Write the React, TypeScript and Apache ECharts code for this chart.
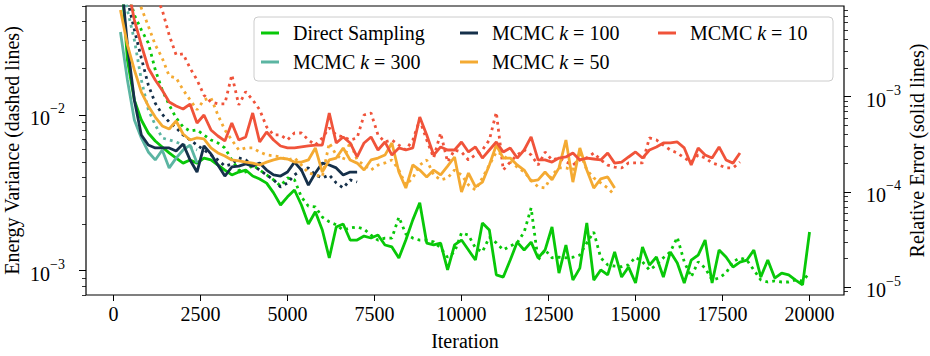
import React, { useEffect, useRef } from 'react';
import * as echarts from 'echarts';

const FONT = 'Liberation Serif';
const STEP = 200;

const names = ['Direct Sampling', 'MCMC k = 300', 'MCMC k = 100', 'MCMC k = 50', 'MCMC k = 10'];
const colors = ['#08c808', '#5bb5a2', '#15304a', '#f4aa32', '#f0533a'];

const xTicks = [0, 2500, 5000, 7500, 10000, 12500, 15000, 17500, 20000];
const leftMajor = [1e-3, 1e-2];
const leftMinor = [7e-4, 8e-4, 9e-4, 2e-3, 3e-3, 4e-3, 5e-3, 6e-3, 7e-3, 8e-3, 9e-3, 2e-2, 3e-2, 4e-2, 5e-2];
const rightMajor = [1e-5, 1e-4, 1e-3];
const rightMinor = [9e-6, 2e-5, 3e-5, 4e-5, 5e-5, 6e-5, 7e-5, 8e-5, 9e-5, 2e-4, 3e-4, 4e-4, 5e-4, 6e-4, 7e-4, 8e-4, 9e-4, 2e-3, 3e-3, 4e-3, 5e-3, 6e-3, 7e-3, 8e-3];

// Relative error (solid lines, right axis)
const errDirect = [
  2.5e-2, 2.43e-3, 9.2e-4, 5.7e-4, 4.16e-4, 3.43e-4, 2.97e-4, 2.57e-4, 2.27e-4, 2.01e-4,
  2.17e-4, 2.01e-4, 2.27e-4, 2.17e-4, 1.92e-4, 1.70e-4, 1.51e-4, 1.62e-4, 1.70e-4, 1.47e-4,
  1.37e-4, 1.24e-4, 9.8e-5, 7.3e-5, 8.9e-5, 1.05e-4, 7.3e-5, 4.62e-5, 6.2e-5, 3.99e-5,
  2.03e-5, 4.29e-5, 4.62e-5, 3.13e-5, 3.13e-5, 3.45e-5, 3.29e-5, 3.54e-5, 2.78e-5, 2.65e-5,
  2.03e-5, 3.13e-5, 5.1e-5, 7.7e-5, 2.91e-5, 2.78e-5, 2.91e-5, 1.52e-5, 2.78e-5, 3.13e-5,
  2.46e-5, 1.93e-5, 4.73e-5, 3.99e-5, 1.35e-5, 1.28e-5, 1.93e-5, 2.98e-5, 2.46e-5, 2.98e-5,
  2.03e-5, 2.46e-5, 4.29e-5, 1.41e-5, 2.78e-5, 1.19e-5, 1.59e-5, 4.73e-5, 1.19e-5, 1.52e-5,
  1.35e-5, 2.35e-5, 1.28e-5, 1.63e-5, 1.11e-5, 2.65e-5, 1.71e-5, 2.08e-5, 1.28e-5, 2.35e-5,
  1.80e-5, 1.11e-5, 1.93e-5, 2.18e-5, 3.13e-5, 1.11e-5, 2.46e-5, 2.08e-5, 1.63e-5, 1.84e-5,
  1.93e-5, 2.46e-5, 1.28e-5, 1.93e-5, 1.25e-5, 1.41e-5, 1.35e-5, 1.19e-5, 1.06e-5, 3.80e-5,
];
const errK300 = [4.77e-3, 1.50e-3, 5.7e-4, 3.69e-4, 2.63e-4, 2.17e-4, 2.76e-4, 1.79e-4, 2.27e-4, 2.76e-4, 3.11e-4, 2.01e-4];
const errK100 = [
  2.14e-2, 3.49e-3, 9.2e-4, 3.97e-4, 3.11e-4, 2.90e-4, 2.90e-4, 2.90e-4, 2.69e-4, 3.19e-4,
  2.17e-4, 1.62e-4, 3.04e-4, 2.51e-4, 1.92e-4, 1.47e-4, 1.83e-4, 1.87e-4, 1.97e-4, 1.87e-4,
  2.01e-4, 1.70e-4, 1.51e-4, 1.47e-4, 1.62e-4, 2.06e-4, 1.70e-4, 1.18e-4, 1.58e-4, 2.01e-4,
  1.92e-4, 1.79e-4, 1.51e-4, 1.62e-4, 1.62e-4,
];
const errK50 = [
  8.13e-3, 3.49e-3, 1.91e-3, 1.12e-3, 7.99e-4, 6.12e-4, 4.93e-4, 4.58e-4, 5.56e-4, 4.06e-4,
  3.51e-4, 3.69e-4, 3.60e-4, 2.90e-4, 2.57e-4, 2.39e-4, 2.17e-4, 2.12e-4, 2.06e-4, 2.01e-4,
  1.92e-4, 2.06e-4, 2.17e-4, 2.27e-4, 2.22e-4, 2.06e-4, 2.06e-4, 2.17e-4, 2.90e-4, 1.62e-4,
  2.17e-4, 2.27e-4, 2.90e-4, 2.17e-4, 2.01e-4, 1.70e-4, 2.17e-4, 2.27e-4, 2.44e-4, 3.27e-4,
  1.62e-4, 1.10e-4, 1.92e-4, 1.70e-4, 1.44e-4, 1.70e-4, 1.51e-4, 1.87e-4, 2.33e-4, 1.00e-4,
  1.58e-4, 1.13e-4, 1.27e-4, 1.92e-4, 3.11e-4, 2.27e-4, 2.27e-4, 1.92e-4, 1.70e-4, 1.30e-4,
  1.34e-4, 1.62e-4, 1.34e-4, 1.79e-4, 3.51e-4, 1.27e-4, 2.90e-4, 1.70e-4, 1.10e-4, 1.37e-4,
  1.44e-4, 1.10e-4,
];
const errK10 = [
  2.72e-2, 1.49e-2, 6.38e-3, 3.49e-3, 2.0e-3, 1.50e-3, 1.17e-3, 8.79e-4, 7.99e-4, 7.43e-4,
  8.38e-4, 5.30e-4, 6.43e-4, 4.48e-4, 3.87e-4, 3.43e-4, 5.30e-4, 3.51e-4, 3.78e-4, 6.75e-4,
  3.35e-4, 4.26e-4, 3.51e-4, 3.04e-4, 2.90e-4, 2.90e-4, 2.97e-4, 3.04e-4, 3.11e-4, 3.11e-4,
  6.75e-4, 3.27e-4, 3.78e-4, 3.27e-4, 2.33e-4, 3.27e-4, 3.78e-4, 2.76e-4, 3.35e-4, 2.44e-4,
  2.90e-4, 2.76e-4, 2.90e-4, 6.12e-4, 3.97e-4, 2.44e-4, 2.97e-4, 2.76e-4, 2.76e-4, 3.35e-4,
  2.63e-4, 2.97e-4, 2.27e-4, 2.76e-4, 3.35e-4, 2.63e-4, 2.90e-4, 2.27e-4, 2.76e-4, 3.78e-4,
  2.17e-4, 2.17e-4, 2.06e-4, 2.27e-4, 2.33e-4, 2.57e-4, 2.17e-4, 2.27e-4, 2.22e-4, 2.17e-4,
  2.57e-4, 2.01e-4, 2.06e-4, 2.33e-4, 2.63e-4, 2.27e-4, 2.76e-4, 2.97e-4, 3.27e-4, 3.27e-4,
  3.35e-4, 2.90e-4, 1.92e-4, 2.90e-4, 2.44e-4, 2.27e-4, 2.97e-4, 2.17e-4, 2.01e-4, 2.57e-4,
];

// Energy variance (dashed lines, left axis)
const varDirect = [
  1.33e-1, 6.35e-2, 4.39e-2, 3.52e-2, 2.90e-2, 1.95e-2, 1.45e-2, 1.16e-2, 9.57e-3, 8.38e-3,
  7.89e-3, 8.01e-3, 7.44e-3, 6.91e-3, 6.61e-3, 6.14e-3, 5.14e-3, 4.43e-3, 4.30e-3, 4.77e-3,
  4.43e-3, 4.12e-3, 3.83e-3, 3.50e-3, 3.94e-3, 3.83e-3, 2.97e-3, 2.60e-3, 2.57e-3, 2.21e-3,
  2.06e-3, 1.97e-3, 1.82e-3, 1.88e-3, 1.91e-3, 1.85e-3, 1.69e-3, 1.57e-3, 1.62e-3, 1.62e-3,
  2.21e-3, 1.72e-3, 1.62e-3, 1.57e-3, 1.57e-3, 1.53e-3, 1.40e-3, 1.22e-3, 1.32e-3, 1.75e-3,
  1.69e-3, 1.40e-3, 1.32e-3, 1.64e-3, 1.51e-3, 1.36e-3, 1.44e-3, 1.51e-3, 1.77e-3, 2.53e-3,
  1.17e-3, 1.36e-3, 1.21e-3, 1.22e-3, 1.21e-3, 1.22e-3, 1.26e-3, 1.51e-3, 1.77e-3, 1.21e-3,
  1.09e-3, 1.07e-3, 1.06e-3, 1.09e-3, 1.22e-3, 1.14e-3, 1.01e-3, 1.09e-3, 1.21e-3, 1.32e-3,
  1.64e-3, 1.14e-3, 9.12e-4, 1.14e-3, 1.04e-3, 8.71e-4, 8.98e-4, 9.66e-4, 1.14e-3, 1.21e-3,
  1.17e-3, 1.01e-3, 8.71e-4, 8.46e-4, 8.59e-4, 8.46e-4, 8.46e-4, 8.71e-4, 8.59e-4, 9.66e-4,
];
const varK300 = [8.53e-2, 4.72e-2, 3.03e-2, 1.68e-2, 1.08e-2, 8.63e-3, 7.12e-3, 6.91e-3, 6.71e-3, 6.41e-3, 6.23e-3, 5.96e-3];
const varK100 = [
  9.91e-2, 5.48e-2, 3.52e-2, 2.32e-2, 1.56e-2, 1.19e-2, 1.01e-2, 9.02e-3, 8.26e-3, 7.44e-3,
  6.91e-3, 6.41e-3, 5.96e-3, 5.54e-3, 5.14e-3, 4.70e-3, 4.84e-3, 5.30e-3, 5.14e-3, 4.77e-3,
  4.43e-3, 4.12e-3, 3.83e-3, 3.45e-3, 3.66e-3, 4.12e-3, 4.43e-3, 4.57e-3, 4.12e-3, 3.94e-3,
  4.12e-3, 3.66e-3, 3.40e-3, 3.83e-3, 3.71e-3,
];
const varK50 = [
  1.33e-1, 8.53e-2, 6.35e-2, 4.86e-2, 3.73e-2, 2.82e-2, 2.32e-2, 1.78e-2, 1.73e-2, 1.45e-2,
  1.25e-2, 1.08e-2, 1.25e-2, 1.29e-2, 1.00e-2, 8.01e-3, 6.91e-3, 5.96e-3, 6.14e-3, 6.14e-3,
  5.78e-3, 5.54e-3, 5.46e-3, 5.37e-3, 5.14e-3, 5.30e-3, 4.77e-3, 4.24e-3, 4.12e-3, 4.00e-3,
  6.61e-3, 5.54e-3, 5.14e-3, 6.71e-3, 5.14e-3, 4.77e-3, 4.43e-3, 4.77e-3, 4.92e-3, 5.14e-3,
  4.43e-3, 3.55e-3, 3.94e-3, 4.77e-3, 5.14e-3, 4.12e-3, 3.83e-3, 3.94e-3, 4.43e-3, 4.12e-3,
  3.55e-3, 3.30e-3, 3.94e-3, 4.77e-3, 5.78e-3, 5.54e-3, 4.99e-3, 4.63e-3, 4.30e-3, 3.83e-3,
  3.45e-3, 3.40e-3, 4.12e-3, 4.57e-3, 4.57e-3, 4.43e-3, 5.78e-3, 4.43e-3, 3.94e-3, 3.66e-3,
  3.40e-3, 3.06e-3,
];
const varK10 = [
  5.04e-1, 2.79e-1, 1.79e-1, 1.15e-1, 7.93e-2, 5.90e-2, 4.72e-2, 3.26e-2, 2.43e-2, 2.47e-2,
  2.0e-2, 1.68e-2, 1.34e-2, 1.21e-2, 1.18e-2, 1.18e-2, 1.81e-2, 1.16e-2, 1.41e-2, 1.25e-2,
  1.08e-2, 8.38e-3, 7.44e-3, 7.44e-3, 6.91e-3, 7.66e-3, 7.66e-3, 6.91e-3, 6.41e-3, 7.12e-3,
  8.26e-3, 7.44e-3, 7.23e-3, 6.91e-3, 7.12e-3, 1.00e-2, 1.03e-2, 7.44e-3, 6.71e-3, 6.91e-3,
  6.41e-3, 5.96e-3, 6.91e-3, 9.29e-3, 6.91e-3, 5.30e-3, 7.66e-3, 4.99e-3, 5.96e-3, 5.78e-3,
  5.14e-3, 5.54e-3, 5.96e-3, 6.91e-3, 1.04e-2, 4.43e-3, 4.99e-3, 5.54e-3, 5.96e-3, 5.54e-3,
  4.77e-3, 5.78e-3, 5.14e-3, 5.30e-3, 4.99e-3, 4.77e-3, 5.14e-3, 5.30e-3, 5.70e-3, 5.14e-3,
  4.77e-3, 4.63e-3, 4.57e-3, 4.92e-3, 4.92e-3, 4.92e-3, 7.12e-3, 6.91e-3, 6.41e-3, 5.96e-3,
  5.70e-3, 5.30e-3, 4.99e-3, 5.54e-3, 5.30e-3, 4.92e-3, 4.77e-3, 4.57e-3, 4.57e-3, 4.99e-3,
];

const errSeries = [errDirect, errK300, errK100, errK50, errK10];
const varSeries = [varDirect, varK300, varK100, varK50, varK10];

const X_MIN = -790;
const X_MAX = 20990;
const LEFT_MIN = 6.98e-4;
const LEFT_MAX = 5.01e-2;
const RIGHT_MIN = 8.3e-6;
const RIGHT_MAX = 8.95e-3;

const txt = { fontFamily: FONT, fontSize: 20, color: '#000', fontWeight: 'normal' };
const powRich = {
  b: { fontFamily: FONT, fontSize: 20, color: '#000', lineHeight: 26, verticalAlign: 'bottom' },
  s: { fontFamily: FONT, fontSize: 14, color: '#000', lineHeight: 14, verticalAlign: 'top' },
};
const powFmt = (v: number) => {
  const e = Math.round(Math.log10(v));
  return `{b|10}{s|\u2212${Math.abs(e)}}`;
};
const tickLine = { color: '#000', width: 1 };

const toPairs = (arr: number[]) => arr.map((v, i) => [(i + 1) * STEP, v]);

const legendFmt = (name: string) => {
  const m = name.match(/^MCMC k = (\d+)$/);
  return m ? `{r|MCMC }{i|k}{r| = ${m[1]}}` : `{r|${name}}`;
};

export default function App() {
  const ref = useRef<HTMLDivElement>(null);
  useEffect(() => {
    if (!ref.current) return;
    const chart = echarts.init(ref.current, undefined, { renderer: 'svg' });
    const yLog = (min: number, max: number, position: string) => ({
      type: 'log', logBase: 10, min, max, position,
      axisLine: { show: false, onZero: false }, splitLine: { show: false },
    });
    const legendBase = {
      top: 22, orient: 'vertical', itemWidth: 18, itemHeight: 3, itemGap: 7, icon: 'rect',
      padding: 0, selectedMode: false, formatter: legendFmt,
      itemStyle: { borderWidth: 0 },
      textStyle: {
        fontFamily: FONT, fontSize: 20, color: '#000', fontWeight: 'normal', lineHeight: 22, padding: [0, 0, 0, 9],
        rich: {
          r: { fontFamily: FONT, fontSize: 20, fontWeight: 'normal', color: '#000', lineHeight: 22 },
          i: { fontFamily: FONT, fontSize: 20, fontWeight: 'normal', fontStyle: 'italic', color: '#000', lineHeight: 22 },
        },
      },
    };
    const series: any[] = [];
    names.forEach((n, k) => {
      series.push({
        type: 'line', name: n + ' (variance)', yAxisIndex: 0, data: toPairs(varSeries[k]),
        symbol: 'none', showSymbol: false, clip: true, z: 2,
        lineStyle: { color: colors[k], width: 2.8, type: [2.8, 4.2], cap: 'butt' },
        itemStyle: { color: colors[k] },
      });
    });
    names.forEach((n, k) => {
      series.push({
        type: 'line', name: n, yAxisIndex: 1, data: toPairs(errSeries[k]),
        symbol: 'none', showSymbol: false, clip: true, z: 3,
        lineStyle: { color: colors[k], width: 2.8 },
        itemStyle: { color: colors[k] },
      });
    });
    chart.setOption({
      animation: false,
      backgroundColor: '#fff',
      textStyle: { fontFamily: FONT, fontWeight: 'normal' },
      grid: {
        left: 86, right: 86, top: 6, bottom: 61, show: true, borderColor: '#000', borderWidth: 1.2,
        backgroundColor: 'transparent', containLabel: false, outerBoundsMode: 'none',
      },
      xAxis: {
        type: 'value', min: X_MIN, max: X_MAX,
        axisLine: { show: false, onZero: false }, splitLine: { show: false },
        axisTick: { show: true, inside: false, length: 6, lineStyle: tickLine, customValues: xTicks },
        axisLabel: { customValues: xTicks, margin: 9, ...txt, formatter: (v: number) => String(v) },
        name: 'Iteration', nameLocation: 'middle', nameGap: 36, nameTextStyle: txt, nameMoveOverlap: false,
      },
      yAxis: [
        {
          ...yLog(LEFT_MIN, LEFT_MAX, 'left'),
          axisTick: { show: true, length: 7, lineStyle: tickLine, customValues: leftMajor },
          axisLabel: { customValues: leftMajor, margin: 21, formatter: powFmt, rich: powRich },
          name: 'Energy Variance (dashed lines)', nameLocation: 'middle', nameGap: 64, nameRotate: 90,
          nameTextStyle: txt, nameMoveOverlap: false,
        },
        {
          ...yLog(RIGHT_MIN, RIGHT_MAX, 'right'),
          axisTick: { show: true, length: 7, lineStyle: tickLine, customValues: rightMajor },
          axisLabel: { customValues: rightMajor, margin: 22, formatter: powFmt, rich: powRich },
          name: 'Relative Error (solid lines)', nameLocation: 'middle', nameGap: 63, nameRotate: 90,
          nameTextStyle: txt, nameMoveOverlap: false,
        },
        {
          ...yLog(LEFT_MIN, LEFT_MAX, 'left'),
          axisTick: { show: true, length: 4, lineStyle: { color: '#000', width: 0.8 }, customValues: leftMinor },
          axisLabel: { show: false },
        },
        {
          ...yLog(RIGHT_MIN, RIGHT_MAX, 'right'),
          axisTick: { show: true, length: 4, lineStyle: { color: '#000', width: 0.8 }, customValues: rightMinor },
          axisLabel: { show: false },
        },
      ],
      legend: [
        { ...legendBase, left: 261, data: [names[0], names[1]] },
        { ...legendBase, left: 460, data: [names[2], names[3]] },
        { ...legendBase, left: 658, data: [names[4]] },
      ],
      graphic: [
        {
          type: 'rect', z: 0, silent: true,
          shape: { x: 254, y: 17, width: 579, height: 64, r: 4 },
          style: { fill: 'rgba(255,255,255,0.8)', stroke: '#cccccc', lineWidth: 1 },
        },
      ],
      series,
    });
    return () => chart.dispose();
  }, []);
  return <div ref={ref} style={{ position: 'absolute', left: 0, top: 0, width: 930, height: 356 }} />;
}
